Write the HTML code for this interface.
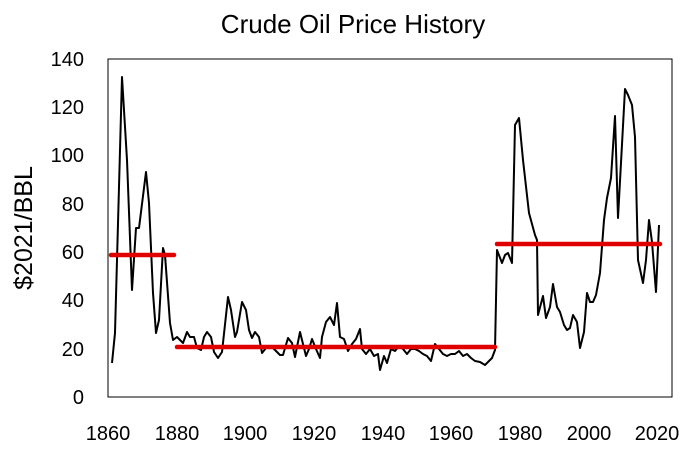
<!DOCTYPE html>
<html><head><style>body{margin:0;background:#fff}svg{display:block}text{font-family:"Liberation Sans",sans-serif;fill:#000}</style></head><body>
<svg width="698" height="455" viewBox="0 0 698 455">
<text x="353" y="33" font-size="26" text-anchor="middle">Crude Oil Price History</text>
<text transform="translate(32,228) rotate(-90)" font-size="25" text-anchor="middle">$2021/BBL</text>
<rect x="108" y="59" width="564" height="338" fill="none" stroke="#000" stroke-width="1"/>
<g font-size="20" text-anchor="end">
<text x="84" y="404">0</text><text x="84" y="356">20</text><text x="84" y="307">40</text><text x="84" y="259">60</text><text x="84" y="211">80</text><text x="84" y="162">100</text><text x="84" y="114">120</text><text x="84" y="66">140</text>
</g>
<g font-size="20" text-anchor="middle">
<text x="108" y="440">1860</text><text x="177" y="440">1880</text><text x="245" y="440">1900</text><text x="314" y="440">1920</text><text x="383" y="440">1940</text><text x="451" y="440">1960</text><text x="520" y="440">1980</text><text x="589" y="440">2000</text><text x="657" y="440">2020</text>
</g>
<polyline fill="none" stroke="#000" stroke-width="2" stroke-linejoin="round" points="112,363 115,333 122,77 127,160 132,290 136,228 139,228 146,172 149,203 153,293 156,333 159,320 163,248 165,255 170,323 173,340 177,337 183,343 187,332 190,337 194,337 197,348 201,350 204,337 207,332 211,337 214,352 218,358 222,352 228,297 231,310 235,337 237,332 242,302 246,310 249,330 252,338 255,332 259,337 262,353 266,348 273,348 280,355 283,355 288,338 292,343 295,357 300,332 303,344 306,356 309,349 312,339 316,349 320,358 322,337 326,322 330,317 334,325 337,303 340,337 344,339 348,351 352,344 356,339 360,329 362,349 366,354 370,349 374,356 378,354 380,370 384,356 387,363 391,349 395,351 399,346 403,349 407,354 411,349 415,349 419,351 423,354 427,356 431,361 435,344 439,349 443,354 447,356 451,354 455,354 459,351 463,356 467,354 471,358 475,361 480,362 485,365 488,362 492,358 495,350 497,250 502,263 505,255 508,253 512,263 515,125 519,118 523,160 529,213 535,235 537,240 538,315 543,296 546,318 550,307 553,284 557,307 560,312 564,325 567,330 570,328 573,315 577,322 580,348 584,332 587,293 590,302 593,302 596,295 600,273 604,220 607,198 611,178 615,116 618,218 625,89 628,95 632,105 635,137 638,260 643,283 646,260 649,220 652,242 656,292 659,225"/>
<g stroke="#e00000" stroke-width="4.5" stroke-linecap="round">
<line x1="111" y1="255" x2="174" y2="255"/>
<line x1="177" y1="347" x2="495" y2="347"/>
<line x1="497" y1="244" x2="660" y2="244"/>
</g>
</svg>
</body></html>
